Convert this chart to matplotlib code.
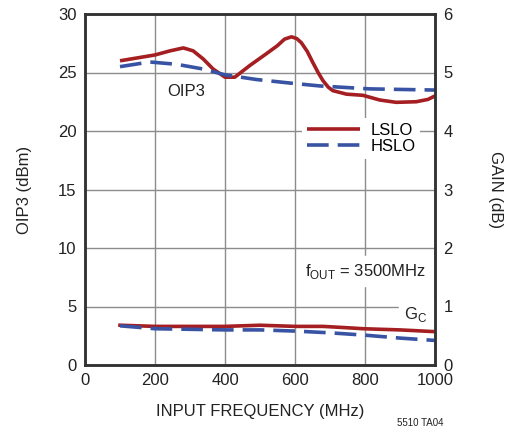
import matplotlib
matplotlib.use("Agg")
import matplotlib.pyplot as plt

plt.rcParams['font.family'] = ['Liberation Sans Narrow', 'Liberation Sans', 'DejaVu Sans']

# OIP3 data (dBm)
lslo_oip3_f = [100, 150, 200, 243, 281, 309, 338, 366, 400, 428, 471, 518, 550, 570, 590, 605, 618, 635, 651, 666, 680, 695, 708, 747, 794, 842, 889, 946, 980, 1000]
lslo_oip3 = [26.0, 26.25, 26.5, 26.85, 27.1, 26.85, 26.15, 25.3, 24.6, 24.6, 25.6, 26.6, 27.3, 27.85, 28.05, 27.9, 27.55, 26.8, 25.85, 25.0, 24.3, 23.75, 23.45, 23.15, 23.05, 22.65, 22.45, 22.5, 22.7, 23.0]
hslo_oip3_f = [100, 185, 262, 337, 400, 490, 585, 671, 813, 1000]
hslo_oip3 = [25.5, 25.9, 25.7, 25.3, 24.8, 24.4, 24.1, 23.85, 23.6, 23.5]

# Conversion gain data (dB)
lslo_gain_f = [100, 200, 300, 400, 500, 600, 680, 740, 795, 900, 1000]
lslo_gain = [0.68, 0.66, 0.66, 0.66, 0.68, 0.66, 0.66, 0.64, 0.62, 0.60, 0.57]
hslo_gain_f = [100, 200, 300, 400, 500, 600, 700, 800, 900, 1000]
hslo_gain = [0.67, 0.62, 0.61, 0.60, 0.60, 0.58, 0.55, 0.51, 0.46, 0.42]

x_ticks = [0, 200, 400, 600, 800, 1000]
y_left_ticks = [0, 5, 10, 15, 20, 25, 30]
y_right_ticks = [0, 1, 2, 3, 4, 5, 6]

red = '#a51e22'
blue = '#3853a4'
frame = '#333333'
gridc = '#8c8c8c'

fig = plt.figure(figsize=(5.16, 4.32), dpi=100)
ax = fig.add_axes([85/516, 1-365/432, 350/516, 351/432])
ax2 = ax.twinx()

ax.set_xlim(0, 1000)
ax.set_ylim(0, 30)
ax2.set_ylim(0, 6)
ax.set_xticks(x_ticks)
ax.set_yticks(y_left_ticks)
ax2.set_yticks(y_right_ticks)
ax.grid(True, color=gridc, linewidth=1.0)
ax.set_axisbelow(True)

lw = 2.6
l1, = ax.plot(lslo_oip3_f, lslo_oip3, color=red, lw=lw, solid_capstyle='butt', solid_joinstyle='round', label='LSLO')
l2, = ax.plot(hslo_oip3_f, hslo_oip3, color=blue, lw=lw, dashes=(6, 2.5), label='HSLO')
ax2.plot(lslo_gain_f, lslo_gain, color=red, lw=lw, solid_joinstyle='round')
ax2.plot(hslo_gain_f, hslo_gain, color=blue, lw=lw, dashes=(6, 2.5))

for a in (ax, ax2):
    for s in a.spines.values():
        s.set_color(frame)
        s.set_linewidth(1.8)
    a.tick_params(length=0, labelsize=12, colors='#222222', pad=6)

ax.set_xlabel('INPUT FREQUENCY (MHz)', fontsize=12, color='#222222', labelpad=11)
ax.set_ylabel('OIP3 (dBm)', fontsize=12, color='#222222', labelpad=19)
ax2.set_ylabel('GAIN (dB)', fontsize=12, color='#222222', rotation=270, labelpad=36)

leg = ax.legend(handles=[l1, l2], loc='upper left', bbox_to_anchor=(0.62, 0.705),
                frameon=True, fontsize=12, handlelength=3.2, handletextpad=0.6,
                labelspacing=0.1, borderpad=0.3, borderaxespad=0)
leg.get_frame().set_edgecolor('none')
leg.get_frame().set_facecolor('white')
leg.get_frame().set_alpha(1)

ax.text(290, 24.0, 'OIP3', fontsize=12, ha='center', va='top', color='#222222')
ax.text(975, 8.0, r'f$_{\mathregular{OUT}}$ = 3500MHz', fontsize=12, ha='right', va='center',
        color='#222222', backgroundcolor='white')
ax.text(945, 4.3, r'G$_{\mathregular{C}}$', fontsize=12, ha='center', va='center', color='#222222',
        backgroundcolor='white')
fig.text(420/516, 1-423/432, '5510 TA04', fontsize=7, ha='center', va='center', color='#222222')

fig.savefig('out.png', dpi=100)
